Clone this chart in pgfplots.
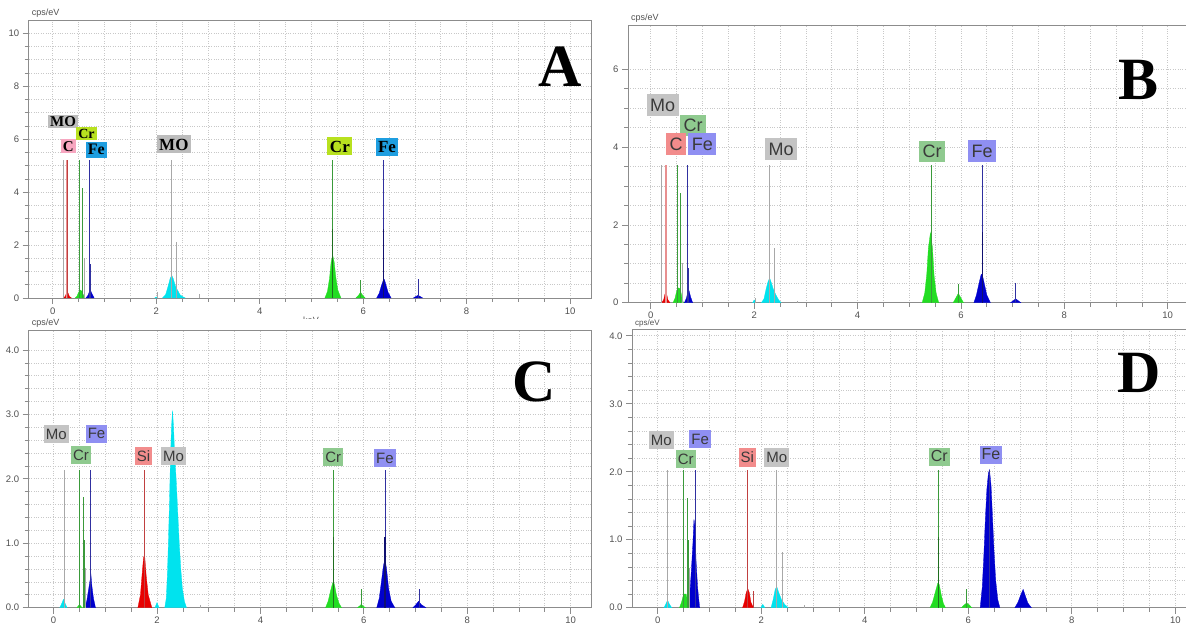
\documentclass[border=0pt]{standalone}
\usepackage{fontspec}
\setmainfont{Liberation Serif}
\setsansfont{Liberation Sans}
\usepackage{pgfplots}
\pgfplotsset{compat=1.18}

\definecolor{framegray}{HTML}{8C8C8C}
\definecolor{gridgray}{HTML}{C8C8C8}
\definecolor{ticktext}{HTML}{505050}
\definecolor{labtext}{HTML}{3A3A3A}
% spectrum fills
\definecolor{fred}{HTML}{E80000}
\definecolor{fgreen}{HTML}{22DD22}
\definecolor{fblue}{HTML}{0000CD}
\definecolor{fcyan}{HTML}{00E3EE}
% marker lines
\definecolor{lred}{HTML}{C04040}
\definecolor{lpink}{HTML}{E89090}
\definecolor{lgreen}{HTML}{3A9A3A}
\definecolor{dgreen}{HTML}{1E6E1E}
\definecolor{lblue}{HTML}{3030A0}
\definecolor{dblue}{HTML}{101070}
\definecolor{lgray}{HTML}{A8A8A8}
% label boxes, panel A
\definecolor{aMo}{HTML}{BDBDBD}
\definecolor{aCr}{HTML}{B8E11F}
\definecolor{aC}{HTML}{F7A6C0}
\definecolor{aFe}{HTML}{1E9EE0}
% label boxes, panels B-D
\definecolor{bMo}{HTML}{C4C4C4}
\definecolor{bCr}{HTML}{8FCA8F}
\definecolor{bFe}{HTML}{8F8FF2}
\definecolor{bSi}{HTML}{F28C8C}

\pgfplotsset{
  eds/.style={
    scale only axis, anchor=south west, clip=false,
    ymin=0,
    xtick={0,2,4,6,8,10}, minor x tick num=3,
    grid=both,
    major grid style={gridgray, dotted, line width=0.7pt},
    minor grid style={gridgray, dotted, line width=0.7pt},
    axis line style={framegray, line width=0.9pt},
    tick style={framegray, line width=0.7pt},
    tick align=outside,
    major tick length=6pt, minor tick length=4pt,
    xtick pos=left, ytick pos=left,
    ticklabel style={font=\sffamily\fontsize{9.5}{9.5}\selectfont, text=ticktext},
    /pgf/number format/assume math mode=true,
  },
  spec/.style={fill=#1, draw=#1, line width=0.3pt},
  kl/.style={ycomb, draw=#1, line width=0.8pt},
}
\tikzset{
  lbA/.style={font=\rmfamily\bfseries\fontsize{15}{15}\selectfont, text=black,
    inner xsep=2pt, inner ysep=1.5pt, text height=10pt, text depth=0pt},
  lbA2/.style={font=\rmfamily\bfseries\fontsize{17}{17}\selectfont, text=black,
    inner xsep=2.5pt, inner ysep=3pt, text height=12pt, text depth=0pt},
  lbB/.style={font=\sffamily\fontsize{18}{18}\selectfont, text=labtext,
    inner xsep=3.5pt, inner ysep=4pt, text height=13pt, text depth=0.5pt},
  lbC/.style={font=\sffamily\fontsize{15}{15}\selectfont, text=labtext,
    inner xsep=2pt, inner ysep=3.5pt, text height=10.8pt, text depth=0.4pt},
  big/.style={font=\rmfamily\bfseries\fontsize{60}{60}\selectfont},
  cps/.style={anchor=south west, font=\sffamily\fontsize{9}{9}\selectfont,
    text=ticktext, inner sep=0pt, xshift=3pt, yshift=2.5pt},
}

\begin{document}
\begin{tikzpicture}
\useasboundingbox (0,0) rectangle (1186pt,624pt);

% ---------------- A ----------------
\begin{axis}[eds, at={(28.7pt,326pt)}, width=562.6pt, height=278pt,
  xmin=-0.466, xmax=10.41, ymax=10.5,
  ytick={0,2,4,6,8,10}, minor y tick num=3]
\addplot[spec=fred] coordinates {(0.20,0)(0.24,0.06)(0.26,0.16)(0.28,0.25)(0.30,0.16)(0.32,0.06)(0.36,0)} \closedcycle;
\addplot[spec=fgreen] coordinates {(0.43,0)(0.47,0.08)(0.50,0.22)(0.53,0.30)(0.56,0.26)(0.59,0.12)(0.62,0)} \closedcycle;
\addplot[spec=fblue] coordinates {(0.64,0)(0.68,0.10)(0.71,0.25)(0.73,0.28)(0.76,0.15)(0.80,0)} \closedcycle;
\addplot[spec=fcyan] coordinates {(1.97,0)(2.00,0.04)(2.03,0)} \closedcycle;
\addplot[spec=fcyan] coordinates {(2.12,0)(2.18,0.12)(2.23,0.45)(2.27,0.75)(2.30,0.85)(2.33,0.72)(2.37,0.45)(2.41,0.30)(2.46,0.12)(2.52,0.04)(2.56,0)} \closedcycle;
\addplot[spec=fgreen] coordinates {(5.26,0)(5.31,0.25)(5.35,0.75)(5.38,1.35)(5.41,1.62)(5.44,1.35)(5.47,0.80)(5.51,0.30)(5.57,0)} \closedcycle;
\addplot[spec=fgreen] coordinates {(5.86,0)(5.91,0.10)(5.95,0.22)(5.99,0.10)(6.04,0)} \closedcycle;
\addplot[spec=fblue] coordinates {(6.26,0)(6.31,0.18)(6.35,0.45)(6.39,0.68)(6.41,0.70)(6.44,0.50)(6.48,0.22)(6.54,0)} \closedcycle;
\addplot[spec=fblue] coordinates {(6.97,0)(7.02,0.06)(7.06,0.10)(7.10,0.06)(7.15,0)} \closedcycle;
\addplot[kl=lgray] coordinates {(0.20,5.23)(0.61,1.50)(2.30,5.23)(2.39,2.12)(2.02,0.22)(2.83,0.15)};
\addplot[kl=lpink] coordinates {(0.27,5.23)};
\addplot[kl=lred] coordinates {(0.285,5.23)};
\addplot[kl=lgreen] coordinates {(0.51,5.23)(0.57,4.17)(5.41,5.23)(5.95,0.69)};
\addplot[kl=lblue] coordinates {(0.71,5.23)(0.73,1.30)(6.40,5.23)(7.06,0.70)};
\addplot[kl=dgreen, line width=1.2pt] coordinates {(5.41,2.62)};
\addplot[kl=dblue, line width=1.2pt] coordinates {(6.40,2.62)};
\node[lbA, fill=aMo] at (axis cs:0.20,6.68) {MO};
\node[lbA, fill=aCr, font=\rmfamily\bfseries\fontsize{14}{14}\selectfont] at (axis cs:0.65,6.21) {Cr};
\node[lbA, fill=aC, inner ysep=2pt] at (axis cs:0.30,5.74) {C};
\node[lbA, fill=aFe, font=\rmfamily\bfseries\fontsize{16}{16}\selectfont, inner ysep=3pt] at (axis cs:0.84,5.59) {Fe};
\node[lbA2, fill=aMo] at (axis cs:2.34,5.80) {MO};
\node[lbA2, fill=aCr] at (axis cs:5.55,5.74) {Cr};
\node[lbA2, fill=aFe] at (axis cs:6.46,5.72) {Fe};
\node[big] at (axis cs:9.80,8.73) {A};
\node[cps] at (rel axis cs:0,1) {cps/eV};
\end{axis}

% keV label of panel A, half hidden under panel C
\begin{scope}
\clip (280pt,305pt) rectangle (340pt,312pt);
\node[font=\sffamily\fontsize{9}{9}\selectfont, text=ticktext] at (311pt,304pt) {keV};
\end{scope}

% ---------------- B ----------------
\begin{axis}[eds, at={(628pt,321.3pt)}, width=558pt, height=277.7pt,
  xmin=-0.441, xmax=10.354, ymax=7.14,
  ytick={0,2,4,6}, minor y tick num=3]
\addplot[spec=fred] coordinates {(0.21,0)(0.25,0.08)(0.27,0.20)(0.29,0.28)(0.31,0.20)(0.33,0.08)(0.37,0)} \closedcycle;
\addplot[spec=fgreen] coordinates {(0.43,0)(0.47,0.12)(0.50,0.30)(0.53,0.38)(0.57,0.36)(0.60,0.15)(0.63,0)} \closedcycle;
\addplot[spec=fblue] coordinates {(0.65,0)(0.69,0.12)(0.72,0.30)(0.74,0.31)(0.77,0.15)(0.81,0)} \closedcycle;
\addplot[spec=fcyan] coordinates {(1.97,0)(2.00,0.07)(2.03,0)} \closedcycle;
\addplot[spec=fcyan] coordinates {(2.14,0)(2.19,0.10)(2.23,0.35)(2.27,0.55)(2.30,0.63)(2.33,0.52)(2.37,0.35)(2.42,0.20)(2.47,0.08)(2.52,0)} \closedcycle;
\addplot[spec=fgreen] coordinates {(5.25,0)(5.30,0.25)(5.34,0.75)(5.37,1.40)(5.41,1.80)(5.45,1.40)(5.48,0.70)(5.52,0.25)(5.57,0)} \closedcycle;
\addplot[spec=fgreen] coordinates {(5.85,0)(5.90,0.12)(5.95,0.24)(6.00,0.12)(6.05,0)} \closedcycle;
\addplot[spec=fblue] coordinates {(6.25,0)(6.30,0.20)(6.35,0.50)(6.39,0.72)(6.41,0.74)(6.45,0.50)(6.50,0.20)(6.57,0)} \closedcycle;
\addplot[spec=fblue] coordinates {(6.96,0)(7.01,0.05)(7.06,0.10)(7.11,0.05)(7.16,0)} \closedcycle;
\addplot[kl=lgray] coordinates {(0.20,3.55)(0.61,1.03)(2.29,3.55)(2.39,1.41)(2.02,0.12)(2.83,0.04)};
\addplot[kl=lpink, line width=1.6pt] coordinates {(0.29,3.55)};
\addplot[kl=lgreen] coordinates {(0.51,3.55)(0.58,2.83)(5.42,3.55)(5.96,0.47)};
\addplot[kl=lblue] coordinates {(0.71,3.55)(0.73,0.88)(6.41,3.55)(7.06,0.50)};
\addplot[kl=dblue, line width=1.2pt] coordinates {(6.41,1.81)};
\node[lbB, fill=bMo] at (axis cs:0.23,5.08) {Mo};
\node[lbB, fill=bCr] at (axis cs:0.82,4.56) {Cr};
\node[lbB, fill=bSi] at (axis cs:0.49,4.08) {C};
\node[lbB, fill=bFe] at (axis cs:1.00,4.08) {Fe};
\node[lbB, fill=bMo] at (axis cs:2.52,3.95) {Mo};
\node[lbB, fill=bCr] at (axis cs:5.44,3.89) {Cr};
\node[lbB, fill=bFe] at (axis cs:6.41,3.90) {Fe};
\node[big] at (axis cs:9.44,5.72) {B};
\node[cps] at (rel axis cs:0,1) {cps/eV};
\end{axis}

% ---------------- C ----------------
\begin{axis}[eds, at={(28.7pt,16.3pt)}, width=562.3pt, height=277.7pt,
  xmin=-0.482, xmax=10.395, ymax=4.31,
  ytick={0,1,2,3,4}, minor y tick num=4,
  yticklabel style={/pgf/number format/.cd, fixed, fixed zerofill, precision=1}]
\addplot[spec=fcyan] coordinates {(0.12,0)(0.16,0.07)(0.19,0.13)(0.22,0.07)(0.26,0)} \closedcycle;
\addplot[spec=fgreen] coordinates {(0.45,0)(0.50,0.05)(0.55,0)} \closedcycle;
\addplot[spec=fblue] coordinates {(0.60,0)(0.64,0.10)(0.68,0.30)(0.71,0.45)(0.72,0.53)(0.74,0.34)(0.77,0.15)(0.81,0)} \closedcycle;
\addplot[spec=fred] coordinates {(1.63,0)(1.68,0.20)(1.71,0.50)(1.74,0.78)(1.76,0.82)(1.79,0.50)(1.83,0.20)(1.90,0)} \closedcycle;
\addplot[spec=fcyan] coordinates {(1.96,0)(2.00,0.08)(2.04,0)} \closedcycle;
\addplot[spec=fcyan] coordinates {(2.15,0)(2.18,0.15)(2.20,0.50)(2.22,1.00)(2.24,1.60)(2.26,2.30)(2.28,2.80)(2.30,3.06)(2.32,2.80)(2.34,2.40)(2.37,2.00)(2.40,1.50)(2.43,1.00)(2.46,0.60)(2.49,0.30)(2.53,0.10)(2.57,0)} \closedcycle;
\addplot[spec=fgreen] coordinates {(5.26,0)(5.31,0.10)(5.36,0.27)(5.40,0.39)(5.43,0.37)(5.47,0.20)(5.52,0.07)(5.57,0)} \closedcycle;
\addplot[spec=fgreen] coordinates {(5.88,0)(5.95,0.05)(6.03,0)} \closedcycle;
\addplot[spec=fblue] coordinates {(6.25,0)(6.30,0.15)(6.34,0.40)(6.38,0.65)(6.41,0.76)(6.44,0.60)(6.48,0.30)(6.53,0.10)(6.60,0)} \closedcycle;
\addplot[spec=fblue] coordinates {(6.95,0)(7.01,0.05)(7.06,0.10)(7.11,0.05)(7.20,0)} \closedcycle;
\addplot[kl=lgray] coordinates {(0.20,2.13)(0.62,0.61)(2.83,0.04)};
\addplot[kl=lgreen] coordinates {(0.50,2.13)(0.575,1.72)(0.59,1.05)(5.41,2.13)(5.95,0.29)};
\addplot[kl=lblue] coordinates {(0.72,2.13)(6.41,2.13)(7.07,0.29)};
\addplot[kl=lred] coordinates {(1.75,2.13)};
\addplot[kl=dgreen, line width=1.2pt] coordinates {(5.41,1.09)};
\addplot[kl=dblue, line width=1.2pt] coordinates {(6.41,1.09)};
\node[lbC, fill=bMo] at (axis cs:0.05,2.69) {Mo};
\node[lbC, fill=bFe] at (axis cs:0.83,2.70) {Fe};
\node[lbC, fill=bCr] at (axis cs:0.53,2.37) {Cr};
\node[lbC, fill=bSi] at (axis cs:1.74,2.35) {Si};
\node[lbC, fill=bMo] at (axis cs:2.32,2.35) {Mo};
\node[lbC, fill=bCr] at (axis cs:5.41,2.34) {Cr};
\node[lbC, fill=bFe] at (axis cs:6.41,2.32) {Fe};
\node[big] at (axis cs:9.29,3.51) {C};
\node[cps] at (rel axis cs:0,1) {cps/eV};
\end{axis}

% ---------------- D ----------------
\begin{axis}[eds, at={(632pt,16.3pt)}, width=554pt, height=278.7pt,
  xmin=-0.497, xmax=10.207, ymax=4.1,
  ytick={0,1,2,3,4}, minor y tick num=4,
  yticklabel style={/pgf/number format/.cd, fixed, fixed zerofill, precision=1}]
\addplot[spec=fcyan] coordinates {(0.12,0)(0.16,0.06)(0.19,0.11)(0.22,0.06)(0.27,0)} \closedcycle;
\addplot[spec=fgreen] coordinates {(0.42,0)(0.46,0.08)(0.50,0.20)(0.55,0.20)(0.60,0)} \closedcycle;
\addplot[spec=fblue] coordinates {(0.59,0)(0.62,0.20)(0.65,0.55)(0.68,0.95)(0.70,1.30)(0.72,1.20)(0.74,0.70)(0.77,0.30)(0.81,0)} \closedcycle;
\addplot[spec=fred] coordinates {(1.64,0)(1.68,0.10)(1.71,0.22)(1.74,0.28)(1.77,0.22)(1.80,0.08)(1.85,0)} \closedcycle;
\addplot[spec=fcyan] coordinates {(1.99,0)(2.03,0.05)(2.07,0)} \closedcycle;
\addplot[spec=fcyan] coordinates {(2.19,0)(2.23,0.12)(2.27,0.27)(2.30,0.31)(2.34,0.22)(2.39,0.12)(2.45,0.05)(2.52,0)} \closedcycle;
\addplot[spec=fgreen] coordinates {(5.26,0)(5.31,0.08)(5.36,0.22)(5.41,0.36)(5.44,0.34)(5.48,0.18)(5.52,0.06)(5.56,0)} \closedcycle;
\addplot[spec=fgreen] coordinates {(5.87,0)(5.92,0.04)(5.97,0.07)(6.02,0.04)(6.07,0)} \closedcycle;
\addplot[spec=fblue] coordinates {(6.23,0)(6.27,0.30)(6.30,0.75)(6.33,1.30)(6.36,1.75)(6.39,1.98)(6.41,2.03)(6.44,1.80)(6.47,1.30)(6.50,0.80)(6.53,0.40)(6.57,0.12)(6.61,0)} \closedcycle;
\addplot[spec=fblue] coordinates {(6.90,0)(6.96,0.08)(7.01,0.18)(7.06,0.27)(7.10,0.18)(7.15,0.07)(7.22,0)} \closedcycle;
\addplot[kl=lgray] coordinates {(0.19,2.02)(0.62,0.58)(2.30,2.02)(2.41,0.82)(2.83,0.04)};
\addplot[kl=lgreen] coordinates {(0.50,2.02)(0.57,1.62)(0.59,1.00)(5.43,2.02)(5.97,0.27)};
\addplot[kl=lblue] coordinates {(0.72,2.02)(6.41,2.02)};
\addplot[kl=lred] coordinates {(1.74,2.02)(1.84,0.25)};
\addplot[kl=dgreen, line width=1.2pt] coordinates {(5.43,1.04)};
\node[lbC, fill=bMo] at (axis cs:0.07,2.47) {Mo};
\node[lbC, fill=bFe] at (axis cs:0.82,2.48) {Fe};
\node[lbC, fill=bCr] at (axis cs:0.54,2.19) {Cr};
\node[lbC, fill=bSi] at (axis cs:1.73,2.21) {Si};
\node[lbC, fill=bMo] at (axis cs:2.30,2.21) {Mo};
\node[lbC, fill=bCr, font=\sffamily\fontsize{16}{16}\selectfont] at (axis cs:5.44,2.22) {Cr};
\node[lbC, fill=bFe, font=\sffamily\fontsize{16}{16}\selectfont] at (axis cs:6.44,2.25) {Fe};
\node[big] at (axis cs:9.30,3.45) {D};
\node[cps, font=\sffamily\fontsize{8}{8}\selectfont, yshift=-1.3pt] at (rel axis cs:0,1) {cps/eV};
\end{axis}
\end{tikzpicture}
\end{document}
